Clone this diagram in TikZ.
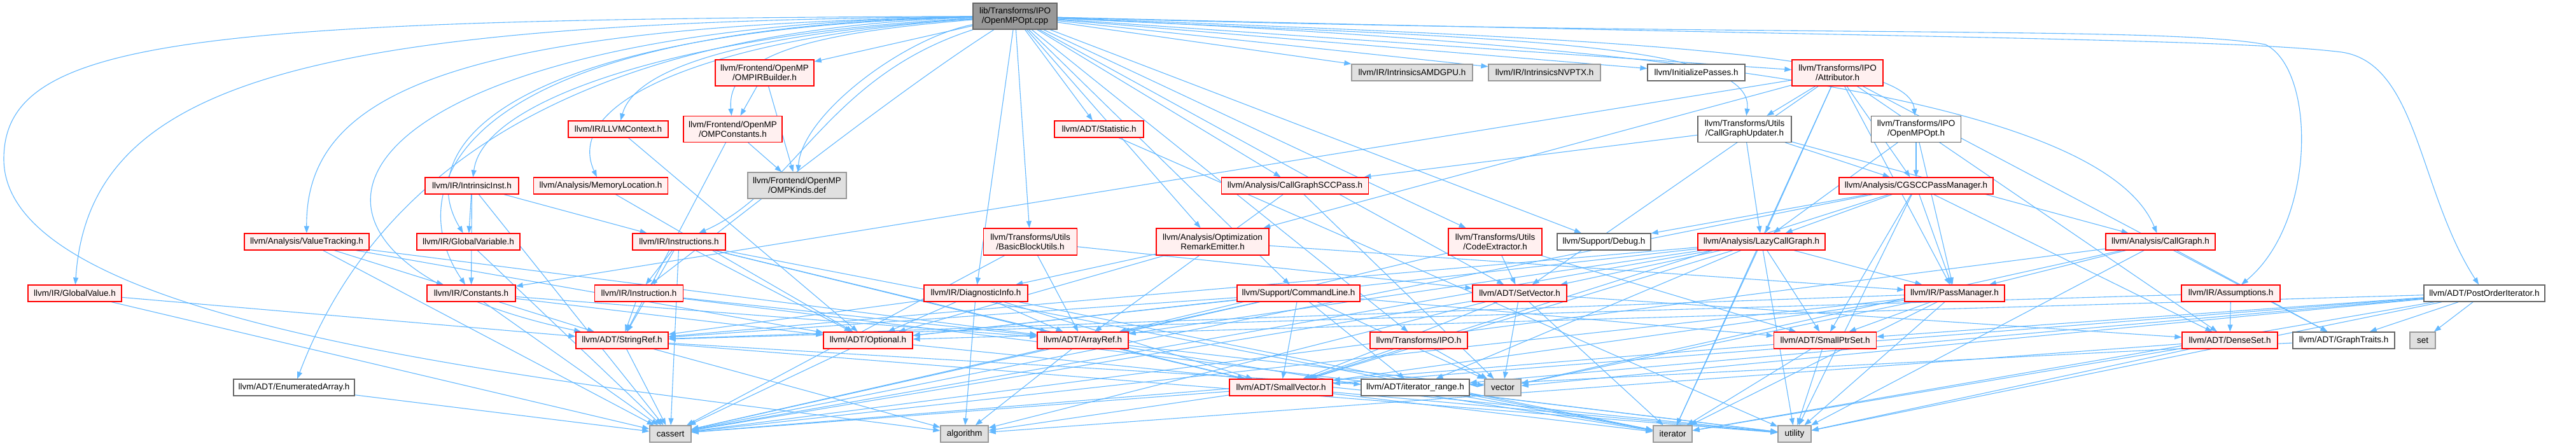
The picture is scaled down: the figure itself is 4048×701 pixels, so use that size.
\documentclass[tikz,border=0pt]{standalone}
\usepackage{fontspec}
\setmainfont{Liberation Sans}
\usetikzlibrary{arrows.meta}
\definecolor{edgec}{HTML}{63B8FF}
\definecolor{redfill}{HTML}{FFF0F0}
\definecolor{redline}{HTML}{FF0000}
\definecolor{gsix}{HTML}{666666}
\definecolor{gnine}{HTML}{999999}
\definecolor{gfill}{HTML}{E0E0E0}
\pgfdeclarelayer{bg}
\pgfsetlayers{bg,main}
\tikzset{
  base/.style={rectangle, inner sep=0pt, line width=1.3pt, font=\fontsize{13.5}{15}\selectfont, align=center, text=black},
  redbox/.style={base, draw=redline, fill=redfill},
  whitebox/.style={base, draw=gsix, fill=white},
  graybox/.style={base, draw=gnine, fill=gfill},
  rootbox/.style={base, draw=gsix, fill=gnine},
  edge/.style={draw=edgec, line width=1.1pt, -{Triangle[length=11pt,width=8pt]}},
  sz/.style 2 args={minimum width=#1pt, minimum height=#2pt},
}
\begin{document}
\begin{tikzpicture}[x=1pt,y=-1pt]
\useasboundingbox (0,0) rectangle (4048,701);
% row 0
\node[rootbox,sz={132}{41}] (root) at (1595,25.5) {lib/Transforms/IPO\\/OpenMPOpt.cpp};
% row 1
\node[redbox,sz={155}{41}] (ombuilder) at (1201.5,114.5) {llvm/Frontend/OpenMP\\/OMPIRBuilder.h};
\node[graybox,sz={190}{26}] (amdgpu) at (2219,114) {llvm/IR/IntrinsicsAMDGPU.h};
\node[graybox,sz={176}{26}] (nvptx) at (2427,114) {llvm/IR/IntrinsicsNVPTX.h};
\node[whitebox,sz={153}{26}] (initp) at (2665.5,114) {llvm/InitializePasses.h};
\node[redbox,sz={143}{41}] (attrib) at (2887.5,114.5) {llvm/Transforms/IPO\\/Attributor.h};
% row 2
\node[redbox,sz={157}{26}] (llvmctx) at (971.5,203) {llvm/IR/LLVMContext.h};
\node[redbox,sz={155}{41}] (ompconst) at (1151.5,203) {llvm/Frontend/OpenMP\\/OMPConstants.h};
\node[redbox,sz={140}{26}] (statistic) at (1727,203) {llvm/ADT/Statistic.h};
\node[whitebox,sz={147}{41}] (cgupd) at (2741.5,203) {llvm/Transforms/Utils\\/CallGraphUpdater.h};
\node[whitebox,sz={141}{41}] (ompopth) at (3011,203) {llvm/Transforms/IPO\\/OpenMPOpt.h};
% row 3
\node[redbox,sz={147}{26}] (intrinst) at (741.5,292) {llvm/IR/IntrinsicInst.h};
\node[redbox,sz={211}{26}] (memloc) at (944,292) {llvm/Analysis/MemoryLocation.h};
\node[graybox,sz={155}{41}] (ompkinds) at (1252.5,291.5) {llvm/Frontend/OpenMP\\/OMPKinds.def};
\node[redbox,sz={231}{26}] (cgscc) at (2035,292) {llvm/Analysis/CallGraphSCCPass.h};
\node[redbox,sz={242}{26}] (cgsccpm) at (3011,292) {llvm/Analysis/CGSCCPassManager.h};
% row 4
\node[redbox,sz={196}{26}] (valtrack) at (482,380) {llvm/Analysis/ValueTracking.h};
\node[redbox,sz={162}{26}] (globvar) at (736,380) {llvm/IR/GlobalVariable.h};
\node[redbox,sz={146}{26}] (instrs) at (1067,380) {llvm/IR/Instructions.h};
\node[redbox,sz={147}{42}] (bbutils) at (1619,380) {llvm/Transforms/Utils\\/BasicBlockUtils.h};
\node[redbox,sz={177}{42}] (ore) at (1905.5,380) {llvm/Analysis/Optimization\\RemarkEmitter.h};
\node[redbox,sz={147}{42}] (codeext) at (2349.5,380) {llvm/Transforms/Utils\\/CodeExtractor.h};
\node[whitebox,sz={147}{26}] (debug) at (2520.5,380) {llvm/Support/Debug.h};
\node[redbox,sz={200}{26}] (lcg) at (2768,380) {llvm/Analysis/LazyCallGraph.h};
\node[redbox,sz={172}{26}] (callgraph) at (3395,380) {llvm/Analysis/CallGraph.h};
% row 5
\node[redbox,sz={147}{26}] (globval) at (117.5,461) {llvm/IR/GlobalValue.h};
\node[redbox,sz={139}{26}] (constants) at (740.5,461) {llvm/IR/Constants.h};
\node[redbox,sz={139}{26}] (instr) at (1004,461) {llvm/IR/Instruction.h};
\node[redbox,sz={163}{26}] (diag) at (1533.5,461) {llvm/IR/DiagnosticInfo.h};
\node[redbox,sz={193}{26}] (cmdline) at (2040.5,461) {llvm/Support/CommandLine.h};
\node[redbox,sz={148}{26}] (setvec) at (2388,461) {llvm/ADT/SetVector.h};
\node[redbox,sz={157}{26}] (passmgr) at (3071.5,461) {llvm/IR/PassManager.h};
\node[redbox,sz={155}{26}] (assump) at (3505.5,461) {llvm/IR/Assumptions.h};
\node[whitebox,sz={190}{26}] (poi) at (3904,461) {llvm/ADT/PostOrderIterator.h};
% row 6
\node[redbox,sz={145}{26}] (strref) at (977.5,535) {llvm/ADT/StringRef.h};
\node[redbox,sz={140}{26}] (optional) at (1364,535) {llvm/ADT/Optional.h};
\node[redbox,sz={143}{26}] (arrayref) at (1701.5,535) {llvm/ADT/ArrayRef.h};
\node[redbox,sz={153}{26}] (ipoh) at (2229.5,535) {llvm/Transforms/IPO.h};
\node[redbox,sz={161}{26}] (smallptr) at (2868,535) {llvm/ADT/SmallPtrSet.h};
\node[redbox,sz={150}{26}] (denseset) at (3504,535) {llvm/ADT/DenseSet.h};
\node[whitebox,sz={160}{26}] (graphtr) at (3683,535) {llvm/ADT/GraphTraits.h};
\node[graybox,sz={40}{26}] (set) at (3807,535) {set};
% row 7
\node[whitebox,sz={190}{26}] (enumarr) at (462,609) {llvm/ADT/EnumeratedArray.h};
\node[redbox,sz={162}{26}] (smallvec) at (2013,609) {llvm/ADT/SmallVector.h};
\node[whitebox,sz={170}{26}] (itrange) at (2224,609) {llvm/ADT/iterator\_range.h};
\node[graybox,sz={57}{26}] (vector) at (2361.5,609) {vector};
% row 8
\node[graybox,sz={65}{26}] (cassert) at (1053.5,682) {cassert};
\node[graybox,sz={75}{26}] (algorithm) at (1515.5,682) {algorithm};
\node[graybox,sz={61}{26}] (iterator) at (2628.5,682) {iterator};
\node[graybox,sz={52}{26}] (utility) at (2820,682) {utility};

\begin{pgfonlayer}{bg}
% edges from the root, left side
\draw[edge] (root) -- (ombuilder);
\draw[edge] (root) .. controls (1300,50) and (1140,80) .. (ompconst);
\draw[edge] (root) .. controls (1420,60) and (1260,180) .. (ompkinds);
\draw[edge] (root) .. controls (1200,50) and (1000,100) .. (llvmctx);
\draw[edge] (root) .. controls (1100,50) and (760,150) .. (intrinst);
\draw[edge] (root) .. controls (1150,55) and (880,150) .. (memloc);
\draw[edge] (root) .. controls (700,40) and (480,150) .. (valtrack);
\draw[edge] (root) .. controls (800,45) and (645,230) .. (globvar);
\draw[edge] (root) .. controls (700,42) and (630,300) .. (constants);
\draw[edge] (root) .. controls (500,35) and (140,120) .. (globval);
\draw[edge] (root) .. controls (500,40) and (340,400) .. (strref);
\draw[edge] (root) .. controls (800,50) and (560,350) .. (enumarr);
\draw[edge] (root) .. controls (300,30) and (6,60) .. (6,250) .. controls (6,520) and (900,600) .. (algorithm);
\draw[edge] (root) .. controls (1300,120) and (1250,300) .. (instrs);
\draw[edge] (root) .. controls (1400,150) and (1150,350) .. (instr);
% edges from the root, right side
\foreach \t in {statistic,bbutils,diag,ore,cmdline,cgscc,amdgpu,nvptx,initp,attrib,codeext,debug,ipoh,setvec}
  \draw[edge] (root) -- (\t);
\draw[edge] (root) .. controls (2300,60) and (2760,60) .. (cgupd);
\draw[edge] (root) .. controls (2500,60) and (3000,80) .. (ompopth);
\draw[edge] (root) .. controls (2600,70) and (3300,150) .. (callgraph);
\draw[edge] (root) .. controls (2800,60) and (3400,40) .. (3560,70) .. controls (3640,110) and (3640,350) .. (assump);
\draw[edge] (root) .. controls (3000,60) and (3500,60) .. (3680,82) .. controls (3800,100) and (3800,300) .. (poi);
% internal edges
\foreach \a/\b in {
  ombuilder/ompconst, ombuilder/ompkinds,
  ompconst/ompkinds, ompconst/strref,
  llvmctx/optional, memloc/optional,
  intrinst/globvar, intrinst/constants, intrinst/instrs, intrinst/cassert,
  globvar/cassert,
  valtrack/constants, valtrack/arrayref, valtrack/optional, valtrack/cassert,
  globval/strref, globval/cassert,
  constants/strref, constants/arrayref, constants/optional, constants/cassert,
  instrs/instr, instrs/optional, instrs/arrayref, instrs/strref, instrs/smallvec, instrs/cassert, instrs/iterator,
  instr/strref, instr/arrayref, instr/utility,
  strref/cassert, strref/algorithm, strref/itrange, strref/utility,
  optional/cassert, optional/utility,
  arrayref/cassert, arrayref/algorithm, arrayref/smallvec, arrayref/vector, arrayref/iterator,
  smallvec/cassert, smallvec/algorithm, smallvec/iterator, smallvec/utility,
  itrange/iterator, itrange/utility,
  diag/optional, diag/arrayref, diag/strref, diag/smallvec, diag/algorithm, diag/iterator,
  bbutils/arrayref, bbutils/setvec, bbutils/cassert,
  ore/diag, ore/passmgr, ore/optional,
  cmdline/arrayref, cmdline/optional, cmdline/strref, cmdline/smallptr, cmdline/smallvec, cmdline/itrange, cmdline/cassert, cmdline/vector,
  cgscc/arrayref, cgscc/vector,
  statistic/utility,
  attrib/cgupd, attrib/ore, attrib/constants, attrib/cgsccpm, attrib/lcg, attrib/passmgr, attrib/setvec, attrib/denseset, attrib/graphtr, attrib/iterator,
  cgupd/cgscc, cgupd/cgsccpm, cgupd/lcg, cgupd/callgraph,
  ompopth/cgsccpm, ompopth/lcg, ompopth/passmgr,
  cgsccpm/debug, cgsccpm/lcg, cgsccpm/passmgr, cgsccpm/smallptr, cgsccpm/smallvec, cgsccpm/denseset, cgsccpm/cassert, cgsccpm/utility,
  lcg/setvec, lcg/smallptr, lcg/passmgr, lcg/arrayref, lcg/optional, lcg/strref, lcg/smallvec, lcg/itrange, lcg/iterator, lcg/utility, lcg/cassert,
  setvec/smallvec, setvec/denseset, setvec/vector, setvec/iterator, setvec/cassert, setvec/algorithm,
  codeext/setvec, codeext/arrayref, codeext/smallptr,
  ipoh/smallvec, ipoh/vector,
  smallptr/iterator, smallptr/utility, smallptr/cassert,
  passmgr/smallptr, passmgr/smallvec, passmgr/strref, passmgr/cassert, passmgr/iterator, passmgr/utility, passmgr/vector,
  callgraph/passmgr, callgraph/graphtr, callgraph/cassert, callgraph/utility, callgraph/vector,
  assump/denseset, assump/strref,
  denseset/algorithm, denseset/iterator, denseset/utility,
  graphtr/itrange,
  poi/graphtr, poi/set, poi/optional, poi/smallptr, poi/smallvec, poi/itrange, poi/iterator, poi/utility, poi/vector,
  enumarr/cassert}
  \draw[edge] (\a) -- (\b);
\end{pgfonlayer}
\end{tikzpicture}
\end{document}
